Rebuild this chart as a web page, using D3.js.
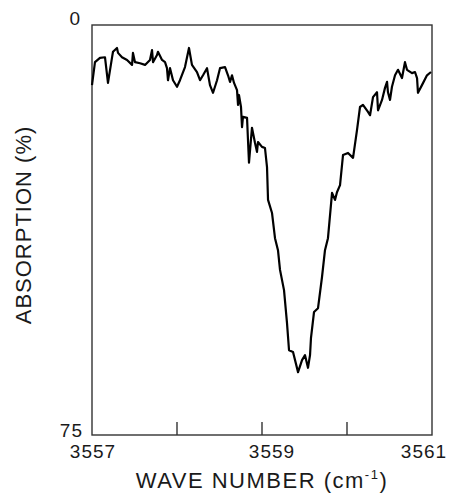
<!DOCTYPE html>
<html>
<head>
<meta charset="utf-8">
<script src="https://cdn.jsdelivr.net/npm/d3@7"></script>
<style>
  body { margin: 0; background: #fff; }
  text { font-family: "Liberation Sans", Arial, sans-serif; fill: #1a1a1a; }
</style>
</head>
<body>
<svg id="chart"></svg>
<script>
var WIDTH = 450;
var HEIGHT = 495;
var margin = { top: 25, right: 18, bottom: 60, left: 92 };

// wave number (cm^-1) and absorption (%)
var waveNumber = [
    3557.000, 3557.035, 3557.094, 3557.153, 3557.188, 3557.235, 3557.247, 3557.294, 3557.306, 3557.353,
    3557.412, 3557.471, 3557.482, 3557.506, 3557.565, 3557.624, 3557.682, 3557.706, 3557.718, 3557.765,
    3557.776, 3557.824, 3557.859, 3557.882, 3557.894, 3557.918, 3557.953, 3558.000, 3558.035, 3558.094,
    3558.141, 3558.176, 3558.235, 3558.271, 3558.306, 3558.353, 3558.388, 3558.424, 3558.471, 3558.506,
    3558.565, 3558.600, 3558.624, 3558.647, 3558.671, 3558.706, 3558.718, 3558.729, 3558.753, 3558.765,
    3558.776, 3558.824, 3558.835, 3558.847, 3558.882, 3558.918, 3558.941, 3558.953, 3559.000, 3559.035,
    3559.059, 3559.071, 3559.118, 3559.153, 3559.188, 3559.212, 3559.259, 3559.294, 3559.318, 3559.365,
    3559.424, 3559.471, 3559.506, 3559.541, 3559.565, 3559.576, 3559.612, 3559.659, 3559.706, 3559.741,
    3559.776, 3559.824, 3559.859, 3559.882, 3559.918, 3559.953, 3560.012, 3560.071, 3560.118, 3560.153,
    3560.188, 3560.247, 3560.271, 3560.306, 3560.353, 3560.365, 3560.412, 3560.447, 3560.471, 3560.482,
    3560.506, 3560.529, 3560.565, 3560.600, 3560.647, 3560.682, 3560.706, 3560.765, 3560.800, 3560.824,
    3560.835, 3560.882, 3560.941, 3560.988
];
var absorption = [
    11.0, 6.8, 6.0, 5.9, 10.6, 6.0, 4.9, 4.2, 5.1, 5.9,
    6.4, 7.3, 5.1, 6.8, 7.0, 7.3, 6.4, 4.6, 6.8, 5.5,
    4.9, 6.4, 6.8, 7.9, 10.1, 7.9, 10.1, 11.3, 10.1, 7.7,
    4.2, 7.3, 8.6, 10.1, 9.2, 7.9, 11.0, 12.4, 10.1, 7.9,
    7.7, 9.2, 10.4, 9.2, 10.6, 11.9, 14.6, 12.8, 15.0, 18.7,
    16.8, 17.0, 21.0, 25.2, 18.8, 21.6, 23.2, 21.4, 22.3, 22.5,
    26.0, 32.0, 34.4, 39.0, 41.2, 44.8, 48.5, 54.5, 59.5, 59.8,
    63.5, 61.3, 60.4, 62.7, 60.4, 57.3, 52.5, 51.8, 46.1, 41.2,
    39.0, 30.7, 32.0, 30.6, 29.3, 23.8, 23.4, 24.3, 19.2, 15.0,
    14.6, 15.9, 16.5, 13.2, 12.3, 15.6, 13.7, 11.5, 10.4, 12.3,
    13.7, 11.3, 9.2, 8.2, 9.7, 6.8, 8.2, 8.8, 8.6, 9.7,
    12.4, 11.0, 9.2, 8.6
];

var xTicks = [3557, 3558, 3559, 3560, 3561];
var xTickLabels = [3557, 3559, 3561];
var yTickLabels = [0, 75];

var x = d3.scaleLinear().domain([3557, 3561]).range([margin.left, WIDTH - margin.right]);
var y = d3.scaleLinear().domain([0, 75]).range([margin.top, HEIGHT - margin.bottom]);

var svg = d3.select('#chart')
    .attr('width', WIDTH)
    .attr('height', HEIGHT);

// frame
svg.append('rect')
    .attr('x', x(3557))
    .attr('y', y(0))
    .attr('width', x(3561) - x(3557))
    .attr('height', y(75) - y(0))
    .attr('fill', 'none')
    .attr('stroke', '#333')
    .attr('stroke-width', 1.4);

// inward ticks on the bottom edge
svg.selectAll('line.xtick')
    .data(xTicks.slice(1, -1))
    .enter()
    .append('line')
    .attr('class', 'xtick')
    .attr('x1', function(d) { return x(d); })
    .attr('x2', function(d) { return x(d); })
    .attr('y1', y(75))
    .attr('y2', y(75) - 13)
    .attr('stroke', '#333')
    .attr('stroke-width', 1.4);

// the labels in the original sit a little off their ticks
var labelShift = { 3557: 1, 3559: 10, 3561: -8 };
svg.selectAll('text.xlab')
    .data(xTickLabels)
    .enter()
    .append('text')
    .attr('class', 'xlab')
    .attr('x', function(d) { return x(d) + labelShift[d]; })
    .attr('y', 458)
    .attr('text-anchor', 'middle')
    .attr('font-size', 19)
    .attr('letter-spacing', 1)
    .text(function(d) { return d; });

svg.selectAll('text.ylab')
    .data(yTickLabels)
    .enter()
    .append('text')
    .attr('class', 'ylab')
    .attr('x', function(d) { return d === 0 ? 81 : 83; })
    .attr('y', function(d) { return d === 0 ? y(d) : y(d) + 2; })
    .attr('text-anchor', 'end')
    .attr('font-size', 19)
    .attr('letter-spacing', 1)
    .text(function(d) { return d; });

// axis titles
var xt = svg.append('text')
    .attr('x', 262)
    .attr('y', 488)
    .attr('text-anchor', 'middle')
    .attr('font-size', 22)
    .attr('letter-spacing', 1.5);
xt.append('tspan').text('WAVE NUMBER (cm');
xt.append('tspan').attr('font-size', 13).attr('dy', -9).text('-1');
xt.append('tspan').attr('dy', 9).text(')');

svg.append('text')
    .attr('transform', 'translate(31,225) rotate(-90)')
    .attr('text-anchor', 'middle')
    .attr('font-size', 22)
    .attr('letter-spacing', 1)
    .text('ABSORPTION (%)');

// spectrum trace
var points = waveNumber.map(function(w, i) { return [w, absorption[i]]; });
var line = d3.line()
    .x(function(d) { return x(d[0]); })
    .y(function(d) { return y(d[1]); });

svg.append('path')
    .datum(points)
    .attr('d', line)
    .attr('fill', 'none')
    .attr('stroke', '#000')
    .attr('stroke-width', 2.2)
    .attr('stroke-linejoin', 'round');
</script>
</body>
</html>
